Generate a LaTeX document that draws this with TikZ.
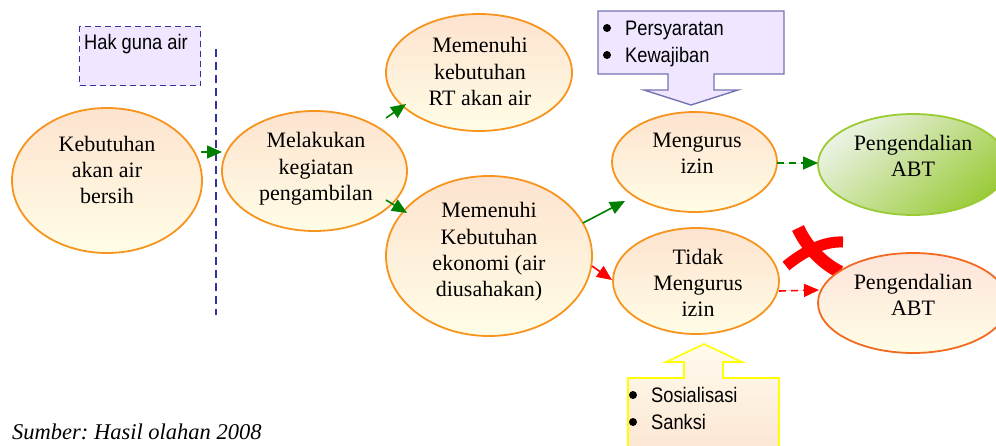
\documentclass[tikz,border=0pt]{standalone}
\usepackage{fontspec}
\setmainfont{Liberation Serif}
\newfontfamily\boxfont[FakeStretch=0.87]{Liberation Sans}
\usetikzlibrary{arrows.meta,calc,shapes.geometric}

\definecolor{ellborder}{HTML}{F7941D}
\definecolor{elltop}{HTML}{FDE3CF}
\definecolor{ellbot}{HTML}{FFFDE6}
\definecolor{arrgreen}{HTML}{008000}
\definecolor{arrred}{HTML}{FF0000}
\definecolor{lavender}{HTML}{F0E6FF}
\definecolor{navydash}{HTML}{333399}
\definecolor{callborder}{HTML}{7474B4}
\definecolor{abtgreen}{HTML}{99CC33}
\definecolor{abtlight}{HTML}{EBF2E4}
\definecolor{abtdark}{HTML}{9BCB3A}
\definecolor{abtred}{HTML}{F26A21}
\definecolor{abtredtop}{HTML}{FDE4DA}
\definecolor{calltop}{HTML}{FFFBEE}
\definecolor{callbot}{HTML}{FCE6D2}
\definecolor{callyellow}{HTML}{FFFF00}

\tikzset{
  ell/.style={ellipse, draw=ellborder, line width=1.8pt, inner sep=0pt,
              top color=elltop, bottom color=ellbot},
  etext/.style={align=center, inner sep=0pt, text=black,
                font=\fontsize{22}{26.3}\selectfont},
  btext/.style={anchor=base west, inner sep=0pt, text=black,
                font=\boxfont\fontsize{21}{26}\selectfont},
  bulletdot/.style={circle, fill=black, inner sep=0pt, minimum size=8pt},
  arrtip/.style={-{Triangle[length=15pt,width=13pt]}},
  garr/.style={arrtip, draw=arrgreen, fill=arrgreen, line width=1.6pt},
  rarr/.style={arrtip, draw=arrred, fill=arrred, line width=1.6pt},
  dashline/.style={dash pattern=on 7pt off 5pt},
}

\begin{document}
\begin{tikzpicture}[x=1pt,y=-1pt]
\useasboundingbox (0,0) rectangle (996,445);

% water-use right box and its boundary line
\node[draw=navydash, line width=1.3pt, dash pattern=on 6pt off 4pt,
      fill=lavender, minimum width=121pt, minimum height=59pt,
      anchor=north west, inner sep=0pt] (hak) at (79,26) {};
\node[btext] (hakt) at (84,49) {Hak guna air};
\coordinate (vtop) at (216,49);
\coordinate (vbot) at (216,315);
\draw[navydash, line width=1.6pt, dash pattern=on 8pt off 5pt] (vtop) -- (vbot);

% requirements callout pointing down
\draw[callborder, fill=lavender, line width=1.4pt, line join=miter]
  (598,11) -- (784,11) -- (784,74) -- (714,74) -- (714,90) -- (738,90)
  -- (691,105) -- (644,90) -- (668,90) -- (668,74) -- (598,74) -- cycle;
\node[bulletdot] (b1) at (607,28) {};
\node[btext] (ps) at (625,35) {Persyaratan};
\node[bulletdot] (b2) at (607,55) {};
\node[btext] (kw) at (625,62) {Kewajiban};

% measures callout pointing up
\draw[callyellow, top color=calltop, bottom color=callbot, line width=1.6pt]
  (628,452) -- (628,378) -- (684,378) -- (684,362) -- (666,362) -- (704,344)
  -- (742,362) -- (723,362) -- (723,378) -- (779,378) -- (779,452);
\node[bulletdot] (b3) at (633,395) {};
\node[btext] (so) at (651,402) {Sosialisasi};
\node[bulletdot] (b4) at (633,422) {};
\node[btext] (sa) at (651,429) {Sanksi};

% red cross over the uncontrolled branch
\draw[arrred, line width=13pt] (798,228) .. controls (806,245) and (820,262) .. (840,272);
\draw[arrred, line width=11pt] (843,242) .. controls (822,241) and (802,253) .. (786,266);

% ellipses
\node[ell, minimum width=190pt, minimum height=145pt] (kb) at (107,180.5) {};
\node[etext] (kbt) at (107,170) {Kebutuhan\\akan air\\bersih};

\node[ell, minimum width=185pt, minimum height=120pt] (ml) at (314.5,171) {};
\node[etext] (mlt) at (316,169) {Melakukan\\kegiatan\\pengambilan};

\node[ell, minimum width=186pt, minimum height=117pt] (mr) at (479,72.5) {};
\node[etext] (mrt) at (480,71.5) {Memenuhi\\kebutuhan\\RT akan air};

\node[ell, minimum width=206pt, minimum height=160pt] (ec) at (489,256) {};
\node[etext] (ect) at (489,252) {Memenuhi\\Kebutuhan\\ekonomi (air\\diusahakan)};

\node[ell, minimum width=165pt, minimum height=100pt] (mi) at (694.5,162) {};
\node[etext] (mit) at (697,153) {Mengurus\\izin};

\node[ell, minimum width=166pt, minimum height=106pt] (ti) at (696,281) {};
\node[etext] (tit) at (698,283) {Tidak\\Mengurus\\izin};

\node[ellipse, draw=abtgreen, line width=1.8pt, inner sep=0pt,
      top color=abtlight, bottom color=abtdark, shading angle=40,
      minimum width=190pt, minimum height=101pt] (pg) at (913,164.5) {};
\node[etext] (pgt) at (913,156) {Pengendalian\\ABT};

\node[ellipse, draw=abtred, line width=1.8pt, inner sep=0pt,
      top color=abtredtop, bottom color=ellbot,
      minimum width=190pt, minimum height=100pt] (pr) at (913,303) {};
\node[etext] (prt) at (913,295) {Pengendalian\\ABT};

% connectors
\draw[garr] ([shift={(94,-28.5)}]kb.center) -- ([shift={(-92.5,-19)}]ml.center);
\draw[garr] ([shift={(71.5,-53)}]ml.center) -- ([shift={(-73,31.5)}]mr.center);
\draw[garr] ([shift={(71.5,29)}]ml.center) -- ([shift={(-82,-43)}]ec.center);
\draw[garr] ([shift={(94,-33)}]ec.center) -- ([shift={(-69.5,39)}]mi.center);
\draw[rarr] ([shift={(103,10)}]ec.center) -- ([shift={(-84,-1)}]ti.center);
\draw[garr, dashline] ([shift={(82.5,1)}]mi.center) -- ([shift={(-95,-1.5)}]pg.center);
\draw[rarr, dashline] ([shift={(83,10)}]ti.center) -- ([shift={(-94,-13)}]pr.center);

% source note
\node[anchor=base west, inner sep=0pt, font=\itshape\fontsize{22.5}{26}\selectfont]
  (src) at (12,439) {Sumber:\ Hasil olahan 2008};
\end{tikzpicture}
\end{document}
